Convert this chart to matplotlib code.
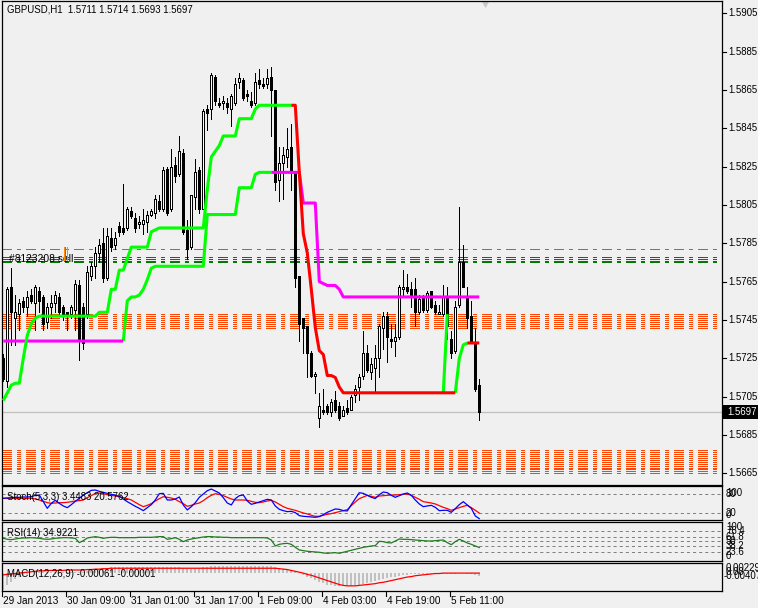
import numpy as np
import matplotlib
matplotlib.use("Agg")
import matplotlib.pyplot as plt
import matplotlib.transforms as mtransforms
from matplotlib.patches import Rectangle, Polygon

plt.rcParams['font.family'] = ['Liberation Sans', 'DejaVu Sans']
plt.rcParams['lines.scale_dashes'] = False

# ---------------- data ----------------
title_text = "GBPUSD,H1  1.5711 1.5714 1.5693 1.5697"
opens = [1.5725,1.5713,1.5762,1.5746,1.5748,1.5755,1.5752,1.5758,1.5754,1.5760,
         1.5757,1.5744,1.5752,1.5754,1.5757,1.5752,1.5749,1.5748,1.5750,1.5763,
         1.5752,1.5748,1.5768,1.5773,1.5780,1.5785,1.5767,1.5788,1.5784,1.5794,
         1.5793,1.5793,1.5802,1.5798,1.5795,1.5795,1.5796,1.5800,1.5801,1.5807,
         1.5803,1.5824,1.5803,1.5826,1.5821,1.5832,1.5792,1.5783,1.5809,1.5823,
         1.5803,1.5855,1.5855,1.5872,1.5858,1.5858,1.5858,1.5855,1.5858,1.5869,
         1.5870,1.5863,1.5859,1.5858,1.5870,1.5868,1.5868,1.5872,1.5865,1.5818,
         1.5827,1.5830,1.5835,1.5822,1.5768,1.5746,1.5742,1.5728,1.5716,1.5694,
         1.5698,1.5700,1.5697,1.5703,1.5700,1.5695,1.5699,1.5698,1.5706,1.5710,
         1.5716,1.5728,1.5718,1.5720,1.5725,1.5741,1.5747,1.5735,1.5734,1.5736,
         1.5761,1.5762,1.5761,1.5761,1.5749,1.5757,1.5750,1.5760,1.5753,1.5748,
         1.5748,1.5757,1.5735,1.5729,1.5753,1.5775,1.5757,1.5747,1.5733,1.5711]
highs = [1.5727,1.5762,1.5772,1.5758,1.5756,1.5757,1.5760,1.5761,1.5763,1.5762,
         1.5758,1.5754,1.5758,1.5760,1.5759,1.5753,1.5749,1.5753,1.5766,1.5766,
         1.5754,1.5773,1.5775,1.5783,1.5787,1.5793,1.5793,1.5793,1.5791,1.5796,
         1.5816,1.5804,1.5804,1.5801,1.5799,1.5803,1.5802,1.5803,1.5810,1.5810,
         1.5825,1.5825,1.5834,1.5830,1.5841,1.5834,1.5797,1.5810,1.5829,1.5825,
         1.5855,1.5857,1.5874,1.5873,1.5861,1.5862,1.5861,1.5863,1.5871,1.5874,
         1.5871,1.5865,1.5864,1.5874,1.5876,1.5871,1.5876,1.5877,1.5865,1.5835,
         1.5835,1.5845,1.5847,1.5822,1.5768,1.5746,1.5742,1.5729,1.5718,1.5707,
         1.5709,1.5701,1.5704,1.5708,1.5702,1.5700,1.5703,1.5706,1.5711,1.5717,
         1.5739,1.5732,1.5725,1.5732,1.5743,1.5749,1.5749,1.5743,1.5743,1.5763,
         1.5771,1.5769,1.5765,1.5767,1.5758,1.5758,1.5760,1.5760,1.5755,1.5753,
         1.5763,1.5762,1.5739,1.5755,1.5804,1.5784,1.5762,1.5755,1.5741,1.5714]
lows = [1.5713,1.5710,1.5732,1.5732,1.5740,1.5749,1.5747,1.5754,1.5740,1.5749,
        1.5740,1.5741,1.5746,1.5749,1.5747,1.5745,1.5740,1.5746,1.5740,1.5724,
        1.5730,1.5746,1.5766,1.5767,1.5775,1.5765,1.5766,1.5781,1.5782,1.5789,
        1.5790,1.5792,1.5798,1.5791,1.5793,1.5790,1.5791,1.5799,1.5798,1.5802,
        1.5802,1.5800,1.5802,1.5817,1.5820,1.5790,1.5777,1.5782,1.5803,1.5801,
        1.5803,1.5844,1.5850,1.5857,1.5856,1.5855,1.5853,1.5846,1.5857,1.5866,
        1.5860,1.5859,1.5856,1.5857,1.5866,1.5866,1.5866,1.5841,1.5813,1.5807,
        1.5808,1.5825,1.5813,1.5762,1.5734,1.5728,1.5715,1.5715,1.5707,1.5689,
        1.5696,1.5696,1.5695,1.5697,1.5693,1.5695,1.5696,1.5698,1.5702,1.5703,
        1.5714,1.5718,1.5714,1.5707,1.5715,1.5730,1.5723,1.5731,1.5726,1.5735,
        1.5757,1.5759,1.5752,1.5742,1.5748,1.5749,1.5749,1.5751,1.5748,1.5748,
        1.5747,1.5735,1.5725,1.5728,1.5752,1.5762,1.5741,1.5733,1.5708,1.5693]
closes = [1.5714,1.5761,1.5749,1.5749,1.5754,1.5752,1.5757,1.5755,1.5762,1.5755,
          1.5743,1.5752,1.5754,1.5758,1.5749,1.5748,1.5747,1.5752,1.5764,1.5735,
          1.5733,1.5770,1.5773,1.5780,1.5784,1.5767,1.5789,1.5783,1.5788,1.5791,
          1.5791,1.5803,1.5799,1.5793,1.5796,1.5797,1.5800,1.5802,1.5808,1.5803,
          1.5823,1.5801,1.5825,1.5820,1.5833,1.5791,1.5782,1.5810,1.5822,1.5803,
          1.5854,1.5853,1.5873,1.5859,1.5857,1.5859,1.5856,1.5862,1.5868,1.5871,
          1.5861,1.5862,1.5857,1.5869,1.5868,1.5867,1.5871,1.5865,1.5817,1.5827,
          1.5831,1.5834,1.5822,1.5767,1.5743,1.5741,1.5728,1.5716,1.5717,1.5700,
          1.5697,1.5697,1.5702,1.5698,1.5694,1.5698,1.5697,1.5705,1.5709,1.5715,
          1.5728,1.5719,1.5722,1.5725,1.5742,1.5747,1.5736,1.5734,1.5736,1.5762,
          1.5762,1.5760,1.5757,1.5749,1.5756,1.5750,1.5759,1.5752,1.5749,1.5749,
          1.5757,1.5742,1.5728,1.5752,1.5775,1.5762,1.5746,1.5733,1.5709,1.5697]

nan = float('nan')
# fast trend line: green (up) / red (down)
fast_up = ([1.5703,1.5707,1.5711,1.5712,1.5712,1.5725,1.5737,1.5743,1.5746,1.5747]
           + [1.5747]*14 + [1.5749,1.5749,1.5749,1.5761,1.5761,1.5771,1.5771,1.5777]
           + [1.5783]*5 + [1.5791,1.5792] + [1.5793]*12
           + [1.5813,1.5830,1.5833,1.5836] + [1.5841]*4 + [1.5850]*4 + [1.5855]
           + [1.5857]*9 + [nan]*37 + [1.5707,1.5748,nan,1.5707,1.5725,1.5732,1.5733,nan,nan,nan])
fast_dn = ([nan]*72 + [1.5857,1.5857,1.5822,1.5790,1.5780,1.5761,1.5741,1.5729,1.5727,
           1.5716,1.5716,1.5715,1.5710] + [1.5707]*29 + [nan,nan] + [1.5733]*4)
# slow trend line: green (up) / magenta (down)
slow_up = ([nan]*30 + [1.5734,1.5755,1.5757,1.5757,1.5758,1.5761,1.5766,1.5772]
           + [1.5773]*13 + [1.5800]*8 + [1.5814]*4 + [1.5821] + [1.5822]*4 + [nan]*52)
slow_dn = ([1.5734]*31 + [nan]*36 + [1.5822]*8 + [1.5806]*4
           + [1.5765,1.5764,1.5763,1.5763,1.5763,1.5761] + [1.5757]*35)

# horizontal order levels
sell_level = 1.5782
green_levels = [1.5775, 1.5776, 1.5777, 1.5778]
orange_levels_mid = [1.5741, 1.5742, 1.5743, 1.5744, 1.5745, 1.5746, 1.5747, 1.5748]
orange_levels_low = [1.5665, 1.5666, 1.5667, 1.5668, 1.5669, 1.5670, 1.5671,
                     1.5672, 1.5673, 1.5674, 1.5675, 1.5676, 1.5677]
bid = 1.5697
order_label = "#8123208 sell"

price_ticks = [1.5665, 1.5685, 1.5705, 1.5725, 1.5745, 1.5765, 1.5785,
               1.5805, 1.5825, 1.5845, 1.5865, 1.5885, 1.5905]
time_labels = ["29 Jan 2013", "30 Jan 09:00", "31 Jan 01:00", "31 Jan 17:00",
               "1 Feb 09:00", "4 Feb 03:00", "4 Feb 19:00", "5 Feb 11:00"]
time_label_bars = [0, 16, 32, 48, 64, 80, 96, 112]

stoch_main = [66.6,67.6,68.6,69.7,69.7,70.7,70.7,71.7,75.9,76.9,
              56.2,35.5,51.0,60.4,51.0,42.8,37.6,46.9,57.3,66.6,
              76.9,84.1,91.4,92.4,88.3,85.2,82.0,79.0,75.9,72.8,
              64.5,56.2,49.0,41.7,35.5,28.3,37.6,46.9,61.4,81.0,
              82.0,61.4,61.4,64.5,70.7,45.9,30.4,40.7,53.1,69.7,
              80.0,90.3,95.5,89.3,83.1,68.6,52.1,45.9,65.5,74.8,
              76.9,58.3,48.0,51.0,55.2,59.3,63.5,61.4,42.8,32.4,
              28.3,25.2,26.2,22.1,12.8,10.7,9.7,8.7,7.6,9.7,
              15.9,23.1,28.3,33.5,32.4,28.3,27.3,46.9,65.5,84.1,
              82.0,75.9,69.7,66.0,78.0,86.2,84.1,75.9,69.7,74.8,
              80.0,83.1,75.9,61.4,49.0,40.7,42.8,44.8,38.6,28.3,
              29.3,29.3,23.1,34.5,46.9,56.2,45.9,35.5,11.8,3.4]
stoch_signal = [66.6,66.6,66.6,66.6,66.6,66.6,66.6,66.6,64.5,61.4,
                57.3,53.1,51.0,52.1,53.1,53.1,54.2,56.2,58.3,59.3,
                61.4,68.6,74.8,82.0,83.1,81.0,77.9,75.9,73.8,71.7,
                68.6,65.5,61.4,54.2,46.9,40.7,44.8,50.0,58.3,65.5,
                71.7,69.7,67.6,63.5,56.2,50.0,41.7,44.8,49.0,52.1,
                59.3,68.6,75.9,81.0,79.0,74.8,69.7,64.5,61.4,61.4,
                61.4,60.4,57.3,54.2,53.1,55.2,58.3,60.4,55.2,48.0,
                40.7,35.5,32.4,29.3,25.2,21.1,18.0,13.8,10.7,10.7,
                13.8,16.9,19.0,22.1,25.2,28.3,31.4,43.8,55.2,65.5,
                70.7,75.9,72.8,69.7,73.8,74.8,75.9,76.9,76.9,77.9,
                79.0,80.0,75.9,69.7,63.5,56.2,54.2,52.1,49.0,43.8,
                38.6,34.5,29.3,33.5,37.6,41.7,44.8,37.6,29.3,20.6]
rsi = [58.0,55.5,54.6,56.3,58.0,58.8,58.8,59.6,58.8,58.0,
       56.3,55.5,56.3,58.0,58.8,59.6,59.6,58.8,58.0,47.1,
       52.1,58.8,60.5,62.2,60.5,58.0,59.6,60.5,60.5,59.6,
       59.6,59.6,59.6,59.6,60.5,60.5,60.5,60.5,61.3,62.2,
       62.2,55.5,57.2,59.6,55.5,49.6,53.8,56.3,58.0,59.6,
       61.3,62.2,62.2,61.3,61.3,60.5,60.5,59.6,59.6,59.6,
       59.6,59.6,59.6,59.6,59.6,59.6,58.8,53.8,38.7,42.9,
       44.6,45.4,42.9,35.4,28.7,27.0,25.4,24.5,23.7,22.9,
       21.2,20.3,21.2,22.0,20.3,22.9,25.4,27.9,30.4,32.9,
       35.4,37.0,38.7,39.6,50.5,49.6,47.1,46.3,51.3,56.3,
       55.5,55.5,54.6,53.8,53.0,52.1,51.3,51.3,52.1,53.0,
       53.8,47.1,42.0,49.6,55.5,51.3,46.3,42.9,38.7,34.9]
macd_hist = [-0.0038,-0.0028,-0.0020,-0.0014,-0.0009,-0.0005,-0.0002,0.0000,0.0002,0.0003,
             0.0003,0.0003,0.0003,0.0003,0.0003,0.0003,0.0002,0.0002,0.0003,0.0003,
             0.0002,0.0004,0.0006,0.0008,0.0010,0.0011,0.0012,0.0013,0.0013,0.0014,
             0.0014,0.0014,0.0014,0.0013,0.0013,0.0013,0.0013,0.0013,0.0013,0.0013,
             0.0014,0.0014,0.0014,0.0014,0.0014,0.0012,0.0010,0.0010,0.0011,0.0011,
             0.0013,0.0014,0.0016,0.0017,0.0017,0.0017,0.0017,0.0017,0.0017,0.0017,
             0.0017,0.0017,0.0017,0.0017,0.0017,0.0017,0.0017,0.0016,0.0013,0.0011,
             0.0009,0.0008,0.0007,0.0004,0.0000,-0.0004,-0.0008,-0.0012,-0.0016,-0.0020,
             -0.0023,-0.0026,-0.0028,-0.0029,-0.0030,-0.0030,-0.0030,-0.0029,-0.0028,-0.0026,
             -0.0024,-0.0022,-0.0020,-0.0018,-0.0015,-0.0013,-0.0012,-0.0010,-0.0009,-0.0007,
             -0.0005,-0.0004,-0.0003,-0.0002,-0.0002,-0.0001,-0.0001,-0.0001,-0.0001,-0.0001,
             -0.0001,-0.0001,-0.0002,-0.0001,0.0000,0.0000,-0.0001,-0.0002,-0.0004,-0.00061]
macd_signal = [-0.0004,-0.0003,-0.0002,-0.0001,0.0000,0.0001,0.0002,0.0003,0.0004,0.0005,
               0.0005,0.0006,0.0006,0.0006,0.0006,0.0006,0.0007,0.0007,0.0007,0.0007,
               0.0007,0.0008,0.0008,0.0009,0.0009,0.0010,0.0010,0.0011,0.0011,0.0011,
               0.0011,0.0011,0.0011,0.0011,0.0011,0.0011,0.0011,0.0011,0.0011,0.0011,
               0.0011,0.0011,0.0011,0.0011,0.0011,0.0011,0.0011,0.0011,0.0011,0.0011,
               0.0011,0.0011,0.0011,0.0011,0.0011,0.0011,0.0011,0.0011,0.0011,0.0011,
               0.0011,0.0011,0.0011,0.0011,0.0011,0.0011,0.0011,0.0011,0.0011,0.0010,
               0.0009,0.0008,0.0006,0.0004,0.0002,0.0000,-0.0003,-0.0005,-0.0008,-0.0011,
               -0.0014,-0.0017,-0.0020,-0.0023,-0.0026,-0.0028,-0.0029,-0.0029,-0.0029,-0.0028,
               -0.0027,-0.0026,-0.0025,-0.0024,-0.0022,-0.0021,-0.0019,-0.0017,-0.0015,-0.0013,
               -0.0011,-0.0009,-0.0008,-0.0006,-0.0005,-0.0004,-0.0003,-0.0002,-0.0001,-0.0001,
               0.0000,0.0000,0.0000,0.0000,0.0000,0.0000,0.0000,0.0000,0.0000,-0.00001]

# ---------------- layout ----------------
W, H = 758, 608
BG = '#f0f0f0'
FS = 6.9
fig = plt.figure(figsize=(W / 100, H / 100), dpi=100, facecolor=BG)

def rect(x0, y0, x1, y1):
    return [x0 / W, 1 - y1 / H, (x1 - x0) / W, (y1 - y0) / H]

def px_y(py):
    return 1 - py / H

XLIM = ((2 - 3.3) / 4, (722 - 3.3) / 4)
n = len(opens)
x = np.arange(n)

def style(ax):
    ax.set_facecolor(BG)
    ax.set_xlim(*XLIM)
    for s in ax.spines.values():
        s.set_color('black')
        s.set_linewidth(0.9)
    ax.set_xticks([])
    ax.set_yticks([])

ax = fig.add_axes(rect(2, 1, 722, 485))
style(ax)
ax.set_ylim(1.56589, 1.59114)

dash = (0, (6.8, 4.0, 2.2, 4.3))
for lv in orange_levels_low + orange_levels_mid:
    ax.axhline(lv, color='#ff4500', lw=0.72, linestyle=dash, antialiased=False, zorder=1)
for lv in green_levels:
    ax.axhline(lv, color='#007a00', lw=0.72, linestyle=dash, antialiased=False, zorder=1)
ax.axhline(sell_level, color='#ff4500', lw=0.72, linestyle=dash, antialiased=False, zorder=1)
ax.axhline(bid, color='#c0c0c0', lw=0.9, zorder=1)

o = np.array(opens); h = np.array(highs); l = np.array(lows); c = np.array(closes)
ax.vlines(x, l, h, color='black', lw=0.72, zorder=3, antialiased=False)
up = c >= o
ax.bar(x[up], c[up] - o[up], bottom=o[up], width=0.5, facecolor='white',
       edgecolor='black', linewidth=0.72, zorder=4, antialiased=False)
ax.bar(x[~up], o[~up] - c[~up], bottom=c[~up], width=0.5, facecolor='black',
       edgecolor='black', linewidth=0.72, zorder=4, antialiased=False)

ax.plot(x, slow_up, color='#00ff00', lw=2.2, zorder=5, solid_capstyle='butt')
ax.plot(x, slow_dn, color='#ff00ff', lw=2.2, zorder=5, solid_capstyle='butt')
ax.plot(x, fast_up, color='#00ff00', lw=2.2, zorder=5, solid_capstyle='butt')
ax.plot(x, fast_dn, color='#ff0000', lw=2.2, zorder=5, solid_capstyle='butt')

ax.text(0.007, 1 - 9 / 484, title_text, transform=ax.transAxes,
        fontsize=FS, va='center', ha='left', color='black')
tr = mtransforms.blended_transform_factory(ax.transAxes, ax.transData)
ax.text(0.0095, 1.57770, order_label, transform=tr, fontsize=7.4, va='center',
        ha='left', color='black', zorder=6)
# small order icon
for k, col in enumerate(['#ff8c00', '#4a78c8', '#ff8c00']):
    ax.add_patch(Rectangle((61.5 / 720 + k * 1.6 / 720, 1.5776), 1.0 / 720, 0.0007,
                           transform=tr, facecolor=col, edgecolor='none', zorder=6))

# price ticks on the right
for p in price_ticks:
    ax.plot([1.0, 1.0 + 4 / 720], [p, p], transform=tr, color='black', lw=0.8, clip_on=False)
    ax.text(1.0 + 6 / 720, p, f"{p:.4f}", transform=tr, fontsize=FS, va='center', ha='left')
# bid label box
ax.add_patch(Rectangle((1.0 + 1 / 720, bid - 0.00036), 35 / 720, 0.00072, transform=tr,
                       facecolor='black', edgecolor='none', clip_on=False, zorder=7))
ax.text(1.0 + 5 / 720, bid, f"{bid:.4f}", transform=tr, fontsize=FS, va='center',
        ha='left', color='white', zorder=8)
# shift marker triangle
ax.add_patch(Polygon([[480 / 720, 1 - 1 / 484], [487 / 720, 1 - 1 / 484], [483.5 / 720, 1 - 7 / 484]],
                     closed=True, transform=ax.transAxes, facecolor='#c8c8c8',
                     edgecolor='none', clip_on=False))

# ---------------- Stochastic ----------------
ax_s = fig.add_axes(rect(2, 486, 722, 520))
style(ax_s)
ax_s.set_ylim(-0.8, 104.9)
lvl = (0, (2.2, 2.2))
for v in (20, 80):
    ax_s.axhline(v, color='#808080', lw=0.72, linestyle=lvl)
ax_s.plot(x, stoch_signal, color='#ff0000', lw=0.9)
ax_s.plot(x, stoch_main, color='#0000ff', lw=0.9)
ax_s.text(0.007, 0.68, "Stoch(5,3,3) 3.4483 20.5762", transform=ax_s.transAxes,
          fontsize=FS, va='center', ha='left')
trs = mtransforms.blended_transform_factory(ax_s.transAxes, ax_s.transData)
ax_s.text(1.0 + 4 / 720, 100, "100", transform=trs, fontsize=FS, va='top', ha='left')
ax_s.text(1.0 + 4 / 720, 80, "80", transform=trs, fontsize=FS, va='center', ha='left')
ax_s.text(1.0 + 4 / 720, 20, "20", transform=trs, fontsize=FS, va='center', ha='left')
ax_s.text(1.0 + 4 / 720, 0, "0", transform=trs, fontsize=FS, va='bottom', ha='left')

# ---------------- RSI ----------------
ax_r = fig.add_axes(rect(2, 522, 722, 561))
style(ax_r)
ax_r.set_ylim(0.97, 99.0)
rsi_levels = [76.4, 61.8, 50, 38.2, 23.6]
for v in rsi_levels:
    ax_r.axhline(v, color='#808080', lw=0.72, linestyle=lvl)
ax_r.plot(x, rsi, color='#1e7b1e', lw=0.9)
ax_r.text(0.007, 0.72, "RSI(14) 34.9221", transform=ax_r.transAxes,
          fontsize=FS, va='center', ha='left')
trr = mtransforms.blended_transform_factory(ax_r.transAxes, ax_r.transData)
ax_r.text(1.0 + 4 / 720, 99, "100", transform=trr, fontsize=FS, va='top', ha='left')
for v in rsi_levels:
    ax_r.text(1.0 + 4 / 720, v, f"{v:g}", transform=trr, fontsize=FS, va='center', ha='left')
ax_r.text(1.0 + 4 / 720, 1, "0", transform=trr, fontsize=FS, va='bottom', ha='left')

# ---------------- MACD ----------------
ax_m = fig.add_axes(rect(2, 563, 722, 591))
style(ax_m)
ax_m.set_ylim(-0.00407, 0.00229)
ax_m.bar(x, macd_hist, width=0.5, color='#c0c0c0', zorder=1, antialiased=False)
ax_m.plot(x, macd_signal, color='#ff0000', lw=0.9, zorder=2)
ax_m.text(0.007, 0.62, "MACD(12,26,9) -0.00061 -0.00001", transform=ax_m.transAxes,
          fontsize=FS, va='center', ha='left', zorder=3)
trm = mtransforms.blended_transform_factory(ax_m.transAxes, ax_m.transData)
ax_m.text(1.0 + 4 / 720, 0.00229, "0.00229", transform=trm, fontsize=FS, va='top', ha='left')
ax_m.text(1.0 + 4 / 720, 0.0002, "0.00", transform=trm, fontsize=FS, va='center', ha='left')
ax_m.text(1.0 + 2 / 720, -0.0007, "-0.00407", transform=trm, fontsize=FS, va='center', ha='left')

# time axis
trx = mtransforms.blended_transform_factory(ax_m.transData, fig.transFigure)
for b, lab in zip(time_label_bars, time_labels):
    ax_m.plot([b - 0.3, b - 0.3], [px_y(591), px_y(596)], transform=trx, color='black',
              lw=0.8, clip_on=False)
    ax_m.text(b, px_y(601), lab, transform=trx, fontsize=7.2, va='center', ha='left')

fig.savefig("out.png", dpi=100, facecolor=BG)
